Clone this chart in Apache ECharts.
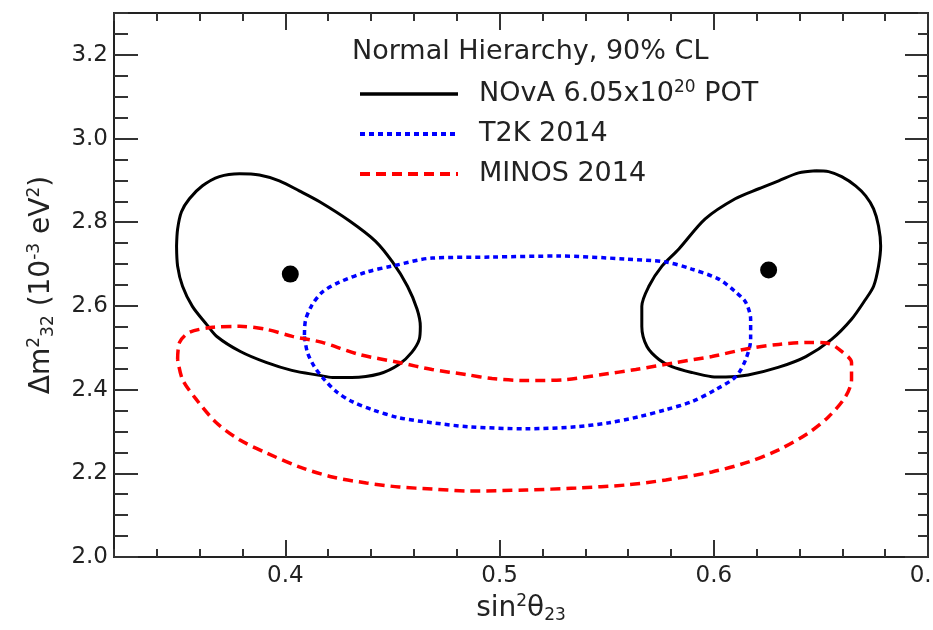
<!DOCTYPE html>
<html>
<head>
<meta charset="utf-8">
<script src="https://cdn.jsdelivr.net/npm/echarts@6/dist/echarts.min.js"></script>
<style>
html, body { margin: 0; padding: 0; background: #fff; }
#nova_contours { width: 933px; height: 630px; }
</style>
</head>
<body>
<div id="nova_contours"></div>
<script>
// tick labels
var xTicks = [0.4, 0.5, 0.6, 0.7];
var yTicks = [2.0, 2.2, 2.4, 2.6, 2.8, 3.0, 3.2];

// contours: [sin^2 theta23, dm^2_32 (1e-3 eV^2)]
var novaLeft = [[0.3492,2.743],[0.3497,2.695],[0.352,2.647],[0.3566,2.599],[0.3632,2.556],[0.368,2.527],
    [0.379,2.491],[0.391,2.465],[0.403,2.446],[0.416,2.434],[0.422,2.429],[0.431,2.429],[0.444,2.438],
    [0.453,2.460],[0.459,2.489],[0.4625,2.520],[0.463,2.551],[0.4615,2.592],[0.457,2.647],[0.450,2.705],
    [0.442,2.755],[0.430,2.803],[0.416,2.849],[0.4065,2.875],[0.3972,2.899],[0.3879,2.913],[0.3786,2.916],
    [0.3692,2.909],[0.3613,2.887],[0.3552,2.856],[0.3515,2.825],[0.3497,2.784],[0.3492,2.743]];
var novaRight = [[0.6476,2.923],[0.6536,2.921],[0.6597,2.909],[0.6662,2.887],[0.6709,2.863],[0.6746,2.832],
    [0.6769,2.791],[0.6779,2.743],[0.6769,2.695],[0.6746,2.647],[0.6709,2.616],[0.6643,2.568],[0.655,2.520],
    [0.643,2.479],[0.630,2.453],[0.616,2.435],[0.6056,2.430],[0.5991,2.431],[0.5897,2.441],[0.5804,2.455],
    [0.5744,2.472],[0.5688,2.503],[0.5664,2.551],[0.5664,2.599],[0.5697,2.647],[0.5758,2.695],[0.5837,2.736],
    [0.596,2.808],[0.610,2.856],[0.621,2.880],[0.6303,2.899],[0.6396,2.918],[0.6476,2.923]];
var t2k = [[0.4089,2.5272],[0.4103,2.4888],[0.4135,2.4552],[0.4182,2.424],[0.4238,2.3952],[0.4312,2.3712],
    [0.4406,2.352],[0.4531,2.3328],[0.4685,2.3208],[0.4858,2.3112],[0.5124,2.3064],[0.5357,2.3112],
    [0.551,2.3208],[0.565,2.3352],[0.5776,2.352],[0.5897,2.3712],[0.6009,2.40],[0.6103,2.4312],
    [0.6149,2.4720],[0.6172,2.52],[0.6172,2.568],[0.6149,2.6088],[0.6103,2.6328],[0.6023,2.664],
    [0.5897,2.688],[0.5776,2.7048],[0.559,2.712],[0.5277,2.7192],[0.4965,2.7168],[0.4685,2.7144],
    [0.4499,2.6952],[0.4378,2.6808],[0.4252,2.6568],[0.4172,2.6328],[0.4121,2.5992],[0.4093,2.5632],
    [0.4089,2.5272]];
var minos = [[0.3497,2.472],[0.3506,2.5128],[0.3552,2.5368],[0.366,2.5488],[0.3786,2.5512],[0.3911,2.544],
    [0.4033,2.5272],[0.4172,2.5128],[0.4345,2.484],[0.4531,2.4648],[0.4685,2.448],[0.4844,2.436],
    [0.4965,2.4264],[0.5124,2.4216],[0.531,2.424],[0.5478,2.436],[0.5636,2.448],[0.5823,2.4648],
    [0.5991,2.4792],[0.6163,2.4984],[0.6303,2.508],[0.6443,2.5128],[0.6536,2.5104],[0.6597,2.4912],
    [0.6643,2.4648],[0.6643,2.424],[0.6615,2.3832],[0.6536,2.3352],[0.6443,2.2968],[0.6303,2.2561],
    [0.6163,2.2273],[0.5991,2.2033],[0.5776,2.1841],[0.559,2.1721],[0.5357,2.1649],[0.5124,2.1601],
    [0.4858,2.1577],[0.4685,2.1625],[0.4531,2.1673],[0.4378,2.1769],[0.4219,2.1913],[0.4065,2.2153],
    [0.3911,2.2489],[0.3786,2.28],[0.3678,2.3208],[0.3585,2.376],[0.352,2.424],[0.3497,2.472]];
var bestFit = [[0.4023,2.676],[0.6256,2.6856]];

var font = "'DejaVu Sans', 'Liberation Sans', sans-serif";
var novaName = 'NOvA 6.05x10^20 POT';

function frameAxis(pos, grid, majorLen, minorLen, isMinor, kind) {
    var ax = {
        type: 'value',
        gridIndex: grid,
        position: pos,
        min: kind === 'x' ? 0.32 : 2.0,
        max: kind === 'x' ? 0.7 : 3.3,
        axisLine: { show: !isMinor, onZero: false, lineStyle: { color: '#222', width: 2 } },
        splitLine: { show: false },
        axisLabel: { show: false },
        axisTick: { show: true, inside: true, length: isMinor ? minorLen : majorLen,
            lineStyle: { color: '#333', width: 2 } }
    };
    if (isMinor) {
        ax.interval = kind === 'x' ? 0.02 : 0.05;
    } else {
        ax.axisTick.customValues = kind === 'x' ? xTicks : yTicks;
        ax.axisLabel.customValues = kind === 'x' ? xTicks : yTicks;
    }
    return ax;
}

var nameStyle = {
    fontSize: 28, fontFamily: font, color: '#222',
    rich: {
        sup: { fontSize: 17, fontFamily: font, color: '#222', verticalAlign: 'top' },
        sub: { fontSize: 17, fontFamily: font, color: '#222', verticalAlign: 'bottom', padding: [14, 0, 0, 0] }
    }
};

var xBottom = frameAxis('bottom', 0, 17, 8, false, 'x');
xBottom.axisLabel.show = true;
xBottom.axisLabel.fontSize = 23;
xBottom.axisLabel.fontFamily = font;
xBottom.axisLabel.color = '#222';
xBottom.axisLabel.margin = 8;
xBottom.axisLabel.formatter = function (v) { return v.toFixed(1); };
xBottom.name = 'sin{sup|2}θ{sub|23}';
xBottom.nameLocation = 'middle';
xBottom.nameGap = 31;
xBottom.nameTextStyle = nameStyle;

var yLeft = frameAxis('left', 0, 24, 14, false, 'y');
yLeft.axisLabel.show = true;
yLeft.axisLabel.fontSize = 23;
yLeft.axisLabel.fontFamily = font;
yLeft.axisLabel.color = '#222';
yLeft.axisLabel.margin = 6;
yLeft.axisLabel.formatter = function (v) { return v.toFixed(1); };
yLeft.name = 'Δm{sup|2}{sub|32} (10{sup|-3} eV{sup|2})';
yLeft.nameLocation = 'middle';
yLeft.nameGap = 57;
yLeft.nameRotate = 90;
yLeft.nameTextStyle = nameStyle;

var option = {
    animation: false,
    backgroundColor: '#fff',
    grid: [
        { left: 114, right: 5, top: 13, bottom: 73, outerBoundsMode: 'none' },
        { left: 114, right: 5, top: 13, bottom: 73, outerBoundsMode: 'none' }
    ],
    title: {
        text: 'Normal Hierarchy, 90% CL',
        left: 352,
        top: 38,
        padding: 0,
        textStyle: { fontSize: 27, fontWeight: 'normal', fontFamily: font, color: '#222' }
    },
    legend: {
        data: [
            { name: novaName, lineStyle: { width: 3.5 } },
            { name: 'T2K 2014', lineStyle: { width: 4 } },
            { name: 'MINOS 2014', lineStyle: { width: 4 } }
        ],
        orient: 'vertical',
        left: 358,
        top: 79,
        padding: 0,
        itemWidth: 98,
        itemHeight: 14,
        itemGap: 10,
        selectedMode: false,
        itemStyle: { opacity: 0 },
        formatter: function (name) {
            if (name === novaName) return 'NOvA 6.05x10{sup|20} POT';
            return name;
        },
        textStyle: {
            fontSize: 27, fontFamily: font, color: '#222', lineHeight: 30, padding: [0, 0, 0, 16],
            rich: { sup: { fontSize: 17, fontFamily: font, color: '#222', verticalAlign: 'top' } }
        }
    },
    xAxis: [
        xBottom,
        frameAxis('top', 0, 17, 8, false, 'x'),
        frameAxis('bottom', 1, 17, 8, true, 'x'),
        frameAxis('top', 1, 17, 8, true, 'x')
    ],
    yAxis: [
        yLeft,
        frameAxis('right', 0, 23, 10, false, 'y'),
        frameAxis('left', 1, 24, 14, true, 'y'),
        frameAxis('right', 1, 23, 10, true, 'y')
    ],
    series: [
        {
            name: novaName, type: 'line', data: novaLeft, symbol: 'none', smooth: 0.3,
            xAxisIndex: 0, yAxisIndex: 0,
            lineStyle: { color: '#000', width: 3 }, itemStyle: { color: '#000' }
        },
        {
            name: 'NOvA right', type: 'line', data: novaRight, symbol: 'none', smooth: 0.3,
            xAxisIndex: 0, yAxisIndex: 0,
            lineStyle: { color: '#000', width: 3 }, itemStyle: { color: '#000' }
        },
        {
            name: 'T2K 2014', type: 'line', data: t2k, symbol: 'none', smooth: 0.3,
            xAxisIndex: 0, yAxisIndex: 0,
            lineStyle: { color: '#0000ff', width: 3.5, type: [5, 4] }, itemStyle: { color: '#0000ff' }
        },
        {
            name: 'MINOS 2014', type: 'line', data: minos, symbol: 'none', smooth: 0.3,
            xAxisIndex: 0, yAxisIndex: 0,
            lineStyle: { color: '#ff0000', width: 3.5, type: [10, 6] }, itemStyle: { color: '#ff0000' }
        },
        {
            name: 'best fit', type: 'scatter', data: bestFit, symbolSize: 17,
            xAxisIndex: 0, yAxisIndex: 0,
            itemStyle: { color: '#000', opacity: 1 }
        }
    ]
};

var myChart = echarts.init(document.getElementById('nova_contours'));
myChart.setOption(option);
</script>
</body>
</html>
